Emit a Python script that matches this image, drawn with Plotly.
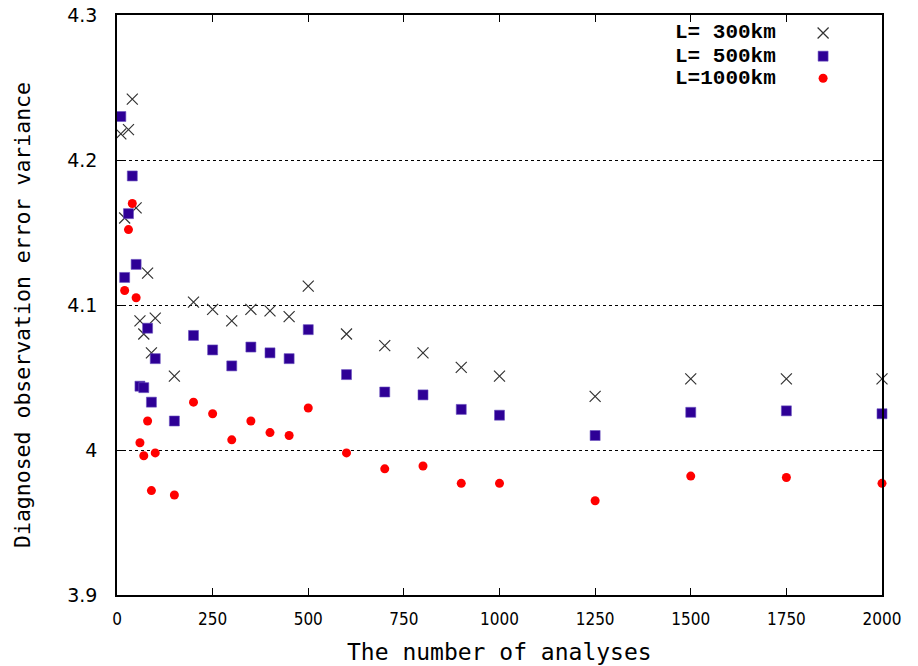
import plotly.graph_objects as go

# ---- data ----
n_analyses = [10, 20, 30, 40, 50, 60, 70, 80, 90, 100,
              150, 200, 250, 300, 350, 400, 450, 500,
              600, 700, 800, 900, 1000, 1250, 1500, 1750, 2000]
var_L300 = [4.218, 4.160, 4.221, 4.242, 4.167, 4.089, 4.080, 4.122, 4.067, 4.091,
            4.051, 4.102, 4.097, 4.089, 4.097, 4.096, 4.092, 4.113,
            4.080, 4.072, 4.067, 4.057, 4.051, 4.037, 4.049, 4.049, 4.049]
var_L500 = [4.230, 4.119, 4.163, 4.189, 4.128, 4.044, 4.043, 4.084, 4.033, 4.063,
            4.020, 4.079, 4.069, 4.058, 4.071, 4.067, 4.063, 4.083,
            4.052, 4.040, 4.038, 4.028, 4.024, 4.010, 4.026, 4.027, 4.025]
var_L1000 = [None, 4.110, 4.152, 4.170, 4.105, 4.005, 3.996, 4.020, 3.972, 3.998,
             3.969, 4.033, 4.025, 4.007, 4.020, 4.012, 4.010, 4.029,
             3.998, 3.987, 3.989, 3.977, 3.977, 3.965, 3.982, 3.981, 3.977]
series_names = ["L= 300km", "L= 500km", "L=1000km"]
x_ticks = [0, 250, 500, 750, 1000, 1250, 1500, 1750, 2000]
y_ticks = [3.9, 4.0, 4.1, 4.2, 4.3]
y_ticktext = ["3.9", "4", "4.1", "4.2", "4.3"]

# ---- styles ----
styles = [
    dict(symbol="x-thin", size=11, color="#333333", line=dict(width=1.2, color="#333333")),
    dict(symbol="square", size=10, color="#2e0096", line=dict(width=0.6, color="#6a50c0")),
    dict(symbol="circle", size=9, color="#ff0000", line=dict(width=0)),
]

fig = go.Figure()
for name, ys, st in zip(series_names, [var_L300, var_L500, var_L1000], styles):
    fig.add_trace(go.Scatter(x=n_analyses, y=ys, mode="markers", name=name,
                             marker=st, showlegend=False, cliponaxis=False))

# legend keys drawn on an auxiliary axis (gnuplot style: key sample right of text)
leg_y = [0.969, 0.929, 0.891]
for name, st, ly in zip(series_names, styles, leg_y):
    fig.add_trace(go.Scatter(x=[0.923], y=[ly], mode="markers", marker=st,
                             xaxis="x2", yaxis="y2", showlegend=False, hoverinfo="skip"))
    fig.add_annotation(x=0.864, y=ly, xref="x2", yref="y2", text="<b>%s</b>" % name,
                       showarrow=False, xanchor="right", yanchor="middle",
                       font=dict(family="Liberation Mono, DejaVu Sans Mono", size=21, color="black"))

axis_common = dict(showline=True, linecolor="black", linewidth=1.5, mirror="ticks",
                   ticks="inside", ticklen=7, tickwidth=1.2, tickcolor="black",
                   zeroline=False, automargin=False, ticklabeloverflow="allow")

fig.update_layout(
    width=918, height=666,
    margin=dict(l=117, r=36, t=15, b=71),
    plot_bgcolor="white", paper_bgcolor="white",
    xaxis=dict(range=[0, 2000], tickvals=x_ticks, showgrid=False,
               tickfont=dict(family="Liberation Sans Narrow, DejaVu Sans Condensed, Liberation Sans",
                             size=17, color="black"),
               ticklabelstandoff=8, **axis_common),
    yaxis=dict(range=[3.9, 4.3], tickvals=y_ticks, ticktext=y_ticktext,
               showgrid=True, gridcolor="black", gridwidth=1, griddash="dot",
               tickfont=dict(family="DejaVu Sans", size=19, color="black"),
               ticklabelstandoff=14, **axis_common),
    xaxis2=dict(range=[0, 1], overlaying="x", visible=False, fixedrange=True),
    yaxis2=dict(range=[0, 1], overlaying="y", visible=False, fixedrange=True),
)

fig.add_annotation(x=0.5, y=0, xref="paper", yref="paper", yshift=-57,
                   text="The number of analyses", showarrow=False, yanchor="middle",
                   font=dict(family="DejaVu Sans Mono", size=23, color="black"))
fig.add_annotation(x=0, y=0.5, xref="paper", yref="paper", xshift=-95, yshift=-10,
                   text="Diagnosed observation error variance", showarrow=False,
                   textangle=-90, xanchor="center",
                   font=dict(family="DejaVu Sans Mono", size=21.5, color="black"))

# remove the default 8px page margin so the 918x666 figure fills the window exactly
fig.write_html("out.html", config={"displayModeBar": False},
               post_script="document.body.style.margin='0';document.body.style.overflow='hidden';")
